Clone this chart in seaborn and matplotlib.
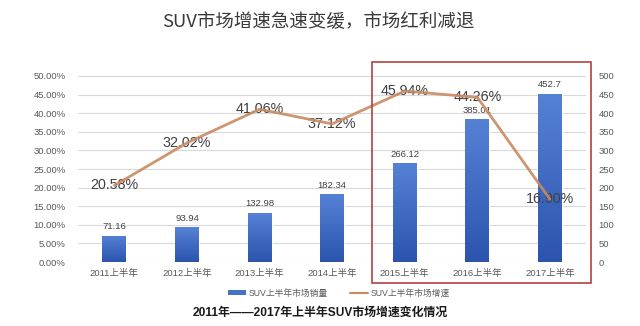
import numpy as np
import matplotlib
matplotlib.use("Agg")
import matplotlib.pyplot as plt
from matplotlib.patches import Patch, Rectangle
from matplotlib.lines import Line2D
import seaborn as sns

# Data
periods = ["2011上半年", "2012上半年", "2013上半年", "2014上半年",
           "2015上半年", "2016上半年", "2017上半年"]
sales = [71.16, 93.94, 132.98, 182.34, 266.12, 385.01, 452.7]
growth = [20.58, 32.02, 41.06, 37.12, 45.94, 44.26, 16.90]
sales_labels = ["71.16", "93.94", "132.98", "182.34", "266.12", "385.01", "452.7"]
growth_labels = ["20.58%", "32.02%", "41.06%", "37.12%", "45.94%", "44.26%", "16.90%"]
pct_ticks = [0, 5, 10, 15, 20, 25, 30, 35, 40, 45, 50]
sales_ticks = [0, 50, 100, 150, 200, 250, 300, 350, 400, 450, 500]

title = "SUV市场增速急速变缓，市场红利减退"
caption = "2011年——2017年上半年SUV市场增速变化情况"
legend_names = ["SUV上半年市场销量", "SUV上半年市场增速"]

sns.set_theme(style="white")
plt.rcParams["font.family"] = ["Liberation Sans", "Noto Sans CJK SC", "DejaVu Sans"]

BAR = "#4472c4"
LINE = "#c98a60"
TICK = "#595959"
GRID = "#d9d9d9"

fig = plt.figure(figsize=(6.4, 3.26), dpi=100)
fig.patch.set_facecolor("white")
ax = fig.add_axes([0.122, 0.196, 0.794, 0.571])

# Bars (sales) on the primary axes
sns.barplot(x=periods, y=sales, color=BAR, width=0.33, ax=ax, saturation=1)
ax.set_ylim(0, 500)
ax.set_yticks(sales_ticks)
ax.grid(axis="y", color=GRID, linewidth=0.8)
ax.set_axisbelow(True)
for s in ax.spines.values():
    s.set_visible(False)
ax.set_xlabel("")
ax.set_ylabel("")

# Vertical gradient fill for each bar
grad = np.linspace(0, 1, 256).reshape(-1, 1)
cmap = matplotlib.colors.LinearSegmentedColormap.from_list("bar", ["#2c54ae", "#5682d6"])
for patch, lab in zip(ax.patches, sales_labels):
    x0, y0 = patch.get_x(), patch.get_y()
    w, h = patch.get_width(), patch.get_height()
    im = ax.imshow(grad, cmap=cmap, origin="lower", aspect="auto",
                   extent=[x0, x0 + w, y0, y0 + h], zorder=2)
    im.set_clip_path(patch)
    ax.annotate(lab, (x0 + w / 2, y0 + h), xytext=(0, 3), textcoords="offset points",
                ha="center", va="bottom", fontsize=6.8, color="#404040", zorder=5)
ax.set_xlim(-0.5, len(periods) - 0.5)
ax.set_ylim(0, 500)

# Growth line on the twin axes
ax2 = ax.twinx()
for i, (v, lab) in enumerate(zip(growth, growth_labels)):
    ax2.text(i, v, lab, ha="center", va="center", fontsize=10.3, color="#404040", zorder=1)
sns.pointplot(x=periods, y=growth, color=LINE, markers="", linewidth=2.0, ax=ax2)
for ln in ax2.lines:
    ln.set_zorder(3)
    ln.set_alpha(0.9)
ax2.set_ylim(0, 50)
ax2.set_yticks(pct_ticks)
ax2.set_yticklabels([f"{t:.2f}%" for t in pct_ticks])
ax2.set_xlim(-0.5, len(periods) - 0.5)
ax2.set_ylabel("")
ax2.set_xlabel("")
ax2.grid(False)
for s in ax2.spines.values():
    s.set_visible(False)

# Percent scale on the left, sales scale on the right
ax2.yaxis.set_ticks_position("left")
ax2.yaxis.set_label_position("left")
ax.yaxis.set_ticks_position("right")
ax.yaxis.set_label_position("right")
ax.tick_params(axis="y", labelsize=6.8, colors=TICK, length=0, pad=9,
               labelleft=False, labelright=True)
ax.tick_params(axis="x", labelsize=6.8, colors=TICK, length=0, pad=5)
ax2.tick_params(axis="y", labelsize=6.8, colors=TICK, length=0, pad=9,
                labelleft=True, labelright=False)

# Title, caption and legend
fig.text(0.497, 0.932, title, ha="center", va="center", fontsize=13.3,
         color="#3a3a3a", family=["Noto Sans CJK SC", "DejaVu Sans"], weight="light")
fig.text(0.5, 0.04, caption, ha="center", va="center", fontsize=8.6,
         color="#1a1a1a", weight="bold")
handles = [Patch(facecolor=BAR, edgecolor="none"),
           Line2D([0], [0], color=LINE, linewidth=1.5)]
fig.legend(handles, legend_names, loc="center", bbox_to_anchor=(0.53, 0.101),
           ncol=2, frameon=False, fontsize=6.3, handlelength=2.0, handleheight=0.5,
           columnspacing=2.5, handletextpad=0.4, labelcolor=TICK)

# Highlight frame around the 2015-2017 period
fig.patches.append(Rectangle((0.581, 0.132), 0.342, 0.678, transform=fig.transFigure,
                             fill=False, edgecolor="#b5423f", linewidth=1.2))

fig.savefig("out.png", dpi=100)
